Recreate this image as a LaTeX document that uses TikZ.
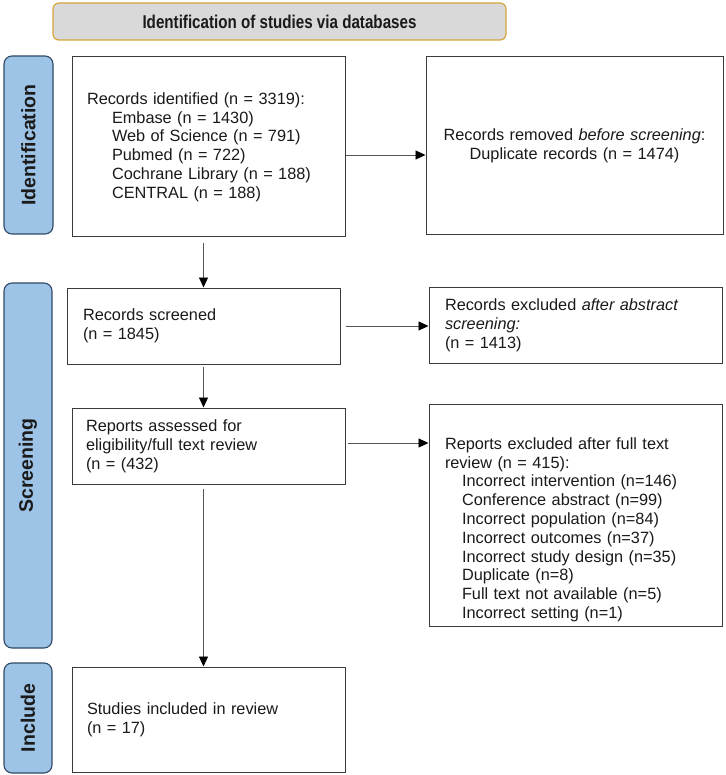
\documentclass[tikz,border=0pt]{standalone}
\usepackage{fontspec}
\usepackage{graphicx}
\setmainfont{Liberation Sans}
\usetikzlibrary{arrows.meta}
\definecolor{boxline}{HTML}{3A3A3A}
\definecolor{hdrfill}{HTML}{D9D9D9}
\definecolor{hdrline}{HTML}{D4A53A}
\definecolor{sidefill}{HTML}{9DC3E6}
\definecolor{sideline}{HTML}{2E4A66}
\definecolor{arrline}{HTML}{555555}
\definecolor{txt}{HTML}{1A1A1A}
\tikzset{
  box/.style={draw=boxline, line width=1pt, fill=white, inner ysep=0pt, text=txt,
    font=\fontsize{16.3}{18.8}\selectfont, align=left, anchor=center},
  hdr/.style={draw=hdrline, fill=hdrfill, line width=1.2pt, rounded corners=6pt,
    font=\fontsize{18.5}{20}\selectfont\bfseries, text=txt, inner sep=0pt},
  side/.style={draw=sideline, fill=sidefill, line width=1.1pt, rounded corners=8pt,
    font=\fontsize{19.5}{22}\selectfont\bfseries, text=txt, rotate=90, inner sep=0pt},
  arr/.style={draw=arrline, line width=0.9pt, -{Triangle[length=10pt,width=9pt,color=black]}},
}
\newcommand{\ind}[1]{\hspace*{#1}}
\begin{document}
\begin{tikzpicture}[x=1pt,y=-1pt]
\useasboundingbox (0,0) rectangle (725,775);
% header
\node[hdr, minimum width=453pt, minimum height=37pt] (hdr) at (279.5,21.5) {\scalebox{0.82}[1]{Identification of studies via databases}};
% side labels
\node[side, minimum width=178pt, minimum height=49pt] (sid) at (28.5,145) {Identification};
\node[side, minimum width=365pt, minimum height=48pt] (ssc) at (28,465.5) {Screening};
\node[side, minimum width=110pt, minimum height=48pt] (sin) at (28,718) {Include};
% boxes
\node[box, minimum height=180pt, inner xsep=15pt, text width=243pt] (b1) at (208.5,147)
 {Records identified (n = 3319):\\
  \ind{25pt}Embase (n = 1430)\\
  \ind{25pt}Web of Science (n = 791)\\
  \ind{25pt}Pubmed (n = 722)\\
  \ind{25pt}Cochrane Library (n = 188)\\
  \ind{25pt}CENTRAL (n = 188)};
\node[box, minimum height=178pt, inner xsep=8pt, text width=281pt, align=center] (b2) at (574.5,146)
 {Records removed \textit{before screening}:\\Duplicate records (n = 1474)};
\node[box, minimum height=76pt, inner xsep=16pt, text width=241pt] (b3) at (203.5,326)
 {Records screened\\(n = 1845)};
\node[box, minimum height=76pt, inner xsep=16pt, text width=261pt] (b4) at (575.5,325)
 {Records excluded \textit{after abstract}\\\textit{screening:}\\(n = 1413)};
\node[box, minimum height=76pt, inner xsep=14pt, text width=245pt] (b5) at (208.5,446)
 {Reports assessed for\\eligibility/full text review\\(n = (432)};
\node[box, minimum height=222pt, inner xsep=16pt, text width=261pt] (b6) at (575.5,515)
 {\rule{0pt}{41pt}Reports excluded after full text\\
  review (n = 415):\\
  \ind{17pt}Incorrect intervention (n=146)\\
  \ind{17pt}Conference abstract (n=99)\\
  \ind{17pt}Incorrect population (n=84)\\
  \ind{17pt}Incorrect outcomes (n=37)\\
  \ind{17pt}Incorrect study design (n=35)\\
  \ind{17pt}Duplicate (n=8)\\
  \ind{17pt}Full text not available (n=5)\\
  \ind{17pt}Incorrect setting (n=1)};
\node[box, minimum height=105pt, inner xsep=15pt, text width=243pt] (b7) at (208.5,719.5)
 {Studies included in review\\(n = 17)};
% helper coordinates
\coordinate (y1) at (0,155);
\coordinate (y3) at (0,443);
% connectors
\draw[arr] (b1.east |- y1) -- (b2.west |- y1);
\draw[arr, shorten <=5pt] (b3.east) -- (b4.west |- b3.east);
\draw[arr, shorten <=2pt] (b5.east |- y3) -- (b6.west |- y3);
\draw[arr, shorten <=6pt] (b1.south -| b3) -- (b3.north);
\draw[arr, shorten <=2pt] (b3.south) -- (b5.north -| b3);
\draw[arr, shorten <=4pt] (b5.south -| b3) -- (b7.north -| b3);
\end{tikzpicture}
\end{document}
